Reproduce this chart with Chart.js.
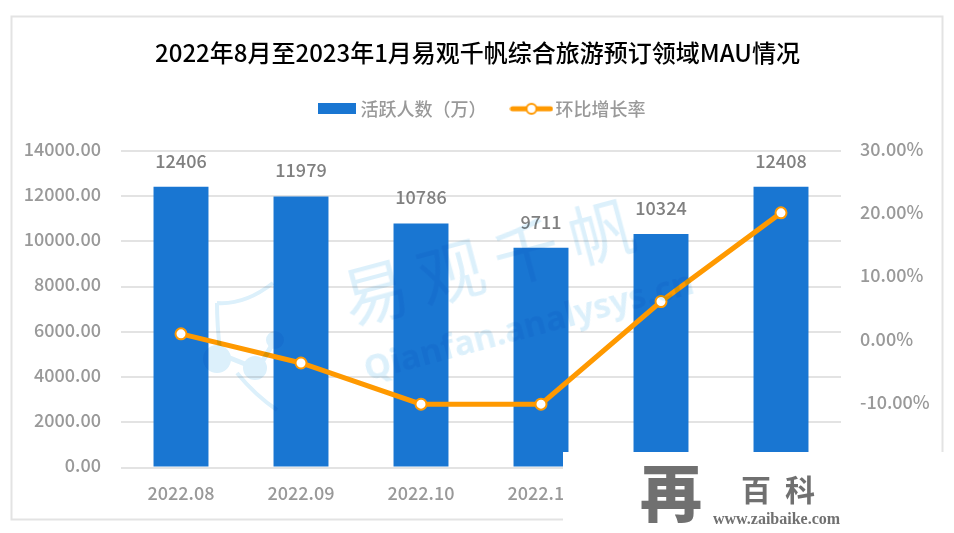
<!DOCTYPE html>
<html>
<head>
<meta charset="utf-8">
<style>
  body { margin: 0; background: #fff; }
  #wrap { position: relative; width: 954px; height: 533px; overflow: hidden; }
  #wm1, #wm2, #shield, #patch, #logo, #bk, #url { position: absolute; white-space: nowrap; }
  #wm1 { left: 334px; top: 265px; font: 400 66px "Noto Sans CJK SC"; line-height: 66px; color: #dcf0fb; mix-blend-mode: multiply; transform: rotate(-15deg); transform-origin: left top; letter-spacing: 12px; }
  #wm2 { left: 359px; top: 349px; font: 700 34px "Noto Sans"; line-height: 40px; color: #dcf0fb; mix-blend-mode: multiply; transform: rotate(-15deg); transform-origin: left top; }
  #shield { left: 0; top: 0; mix-blend-mode: multiply; }
  #patch { left: 563px; top: 452px; width: 391px; height: 81px; background: #fff; }
  #logo { left: 640px; top: 445px; font: 900 62px "Noto Sans CJK SC"; color: #707070; }
  #bk { left: 741px; top: 466px; font: 700 30px "Noto Sans CJK SC"; color: #707070; letter-spacing: 14px; }
  #url { left: 713px; top: 510px; font: 700 16px "Liberation Serif"; color: #707070; }
</style>
</head>
<body>
<div id="wrap">
  <canvas id="myChart" width="954" height="533"></canvas>
  <div id="wm1">易观千帆</div>
  <div id="wm2">Qianfan.analysys.cn</div>
  <svg id="shield" width="954" height="533" fill="none" stroke="#dcf0fb" stroke-width="4">
    <path d="M217 303 Q245 305 273 283 M217 303 Q217 325 220 350 M237 373 Q255 395 277 410"/>
    <circle cx="217" cy="359" r="12" fill="#dcf0fb"/>
    <circle cx="255" cy="368" r="10" fill="#dcf0fb"/>
    <circle cx="275" cy="340" r="7" fill="#dcf0fb"/>
    <path d="M225 356 L250 366 M262 362 L272 345" stroke-width="5"/>
  </svg>
  <div id="patch"></div>
  <div id="logo">再</div>
  <div id="bk">百科</div>
  <div id="url">www.zaibaike.com</div>
</div>
<script src="https://cdn.jsdelivr.net/npm/chart.js@4"></script>
<script>
const months = ['2022.08', '2022.09', '2022.10', '2022.11', '2022.12', '2023.01'];
const activeUsers = [12406, 11979, 10786, 9711, 10324, 12408];
const growthRate = [1.1, -3.5, -10, -10, 6.2, 20.2];

const cjk = '"Noto Sans CJK SC"';
const blue = '#1976d2';
const orange = '#ff9900';
const gridColor = '#e3e3e3';
const grey = '#999999';

// legend icons are small canvases because the builtin line legend has no marker
function barIcon() {
    const c = document.createElement('canvas');
    c.width = 38; c.height = 11;
    const x = c.getContext('2d');
    x.fillStyle = blue;
    x.fillRect(0, 0, 38, 11);
    return c;
}

function lineIcon() {
    const c = document.createElement('canvas');
    c.width = 44; c.height = 14;
    const x = c.getContext('2d');
    x.strokeStyle = orange;
    x.lineWidth = 5;
    x.lineCap = 'round';
    x.beginPath(); x.moveTo(3, 7); x.lineTo(41, 7); x.stroke();
    x.fillStyle = '#fff';
    x.lineWidth = 2;
    x.beginPath(); x.arc(22, 7, 5, 0, Math.PI * 2); x.fill(); x.stroke();
    return c;
}

const framePlugin = {
    id: 'frame',
    beforeDraw(chart) {
        const ctx = chart.ctx;
        ctx.save();
        ctx.strokeStyle = gridColor;
        ctx.lineWidth = 2;
        ctx.strokeRect(11.5, 16.5, 931, 503);
        ctx.restore();
    }
};

// more room under the legend, and the legend sits a little right of centre
const legendSpot = {
    id: 'legendSpot',
    beforeInit(chart) {
        const fit = chart.legend.fit;
        chart.legend.fit = function () {
            fit.call(this);
            this.height += 23;
        };
    },
    afterLayout(chart) {
        chart.legend.left += 6;
        chart.legend.right += 6;
    }
};

const barLabels = {
    id: 'barLabels',
    afterDatasetsDraw(chart) {
        const ctx = chart.ctx;
        ctx.save();
        ctx.font = '500 18px ' + cjk;
        ctx.fillStyle = '#808080';
        ctx.textAlign = 'center';
        ctx.textBaseline = 'middle';
        chart.getDatasetMeta(1).data.forEach((bar, i) => {
            ctx.fillText(activeUsers[i], bar.x, bar.y - 26);
        });
        ctx.restore();
    }
};

new Chart(document.getElementById('myChart'), {
    data: {
        labels: months,
        datasets: [
            {
                type: 'line',
                label: '环比增长率',
                data: growthRate,
                yAxisID: 'y1',
                borderColor: orange,
                borderWidth: 5,
                pointRadius: 5.5,
                pointBorderWidth: 2,
                pointBackgroundColor: '#fff',
                pointBorderColor: orange,
                tension: 0,
                order: 1
            },
            {
                type: 'bar',
                label: '活跃人数（万）',
                data: activeUsers,
                yAxisID: 'y',
                backgroundColor: blue,
                barPercentage: 0.458,
                categoryPercentage: 1,
                order: 2
            }
        ]
    },
    options: {
        responsive: false,
        animation: false,
        layout: { padding: { top: 38, left: 25, right: 24, bottom: 25.5 } },
        plugins: {
            title: {
                display: true,
                text: '2022年8月至2023年1月易观千帆综合旅游预订领域MAU情况',
                color: '#000',
                font: { family: cjk, size: 24, weight: '500' },
                padding: { top: 0, bottom: 3 }
            },
            legend: {
                display: true,
                labels: {
                    color: grey,
                    font: { family: cjk, size: 18, weight: '500' },
                    usePointStyle: true,
                    pointStyleWidth: 30,
                    padding: 30,
                    generateLabels() {
                        return [
                            { text: '活跃人数（万）', pointStyle: barIcon(), fontColor: grey, lineWidth: 0, datasetIndex: 1 },
                            { text: '环比增长率', pointStyle: lineIcon(), fontColor: grey, lineWidth: 0, datasetIndex: 0 }
                        ];
                    }
                }
            },
            tooltip: { enabled: false }
        },
        scales: {
            x: {
                afterFit(scale) { scale.height = 40; },
                grid: { display: false },
                border: { display: false },
                ticks: { color: grey, font: { family: cjk, size: 18, weight: '500' }, padding: 7, maxRotation: 0 }
            },
            y: {
                position: 'left',
                min: 0,
                max: 14000,
                afterFit(scale) { scale.width = 96; },
                grid: { color: gridColor, lineWidth: 2, drawTicks: false },
                border: { display: false },
                ticks: {
                    stepSize: 2000,
                    color: grey,
                    font: { family: cjk, size: 18, weight: '500' },
                    padding: 20,
                    labelOffset: -2,
                    callback: v => v.toFixed(2)
                }
            },
            y1: {
                position: 'right',
                min: -20,
                max: 30,
                afterFit(scale) { scale.width = 89; },
                grid: { display: false, drawTicks: false },
                border: { display: false },
                ticks: {
                    stepSize: 10,
                    color: grey,
                    font: { family: cjk, size: 18, weight: '500' },
                    padding: 19,
                    labelOffset: -2,
                    callback: v => v.toFixed(2) + '%'
                }
            }
        }
    },
    plugins: [framePlugin, legendSpot, barLabels]
});
</script>
</body>
</html>
